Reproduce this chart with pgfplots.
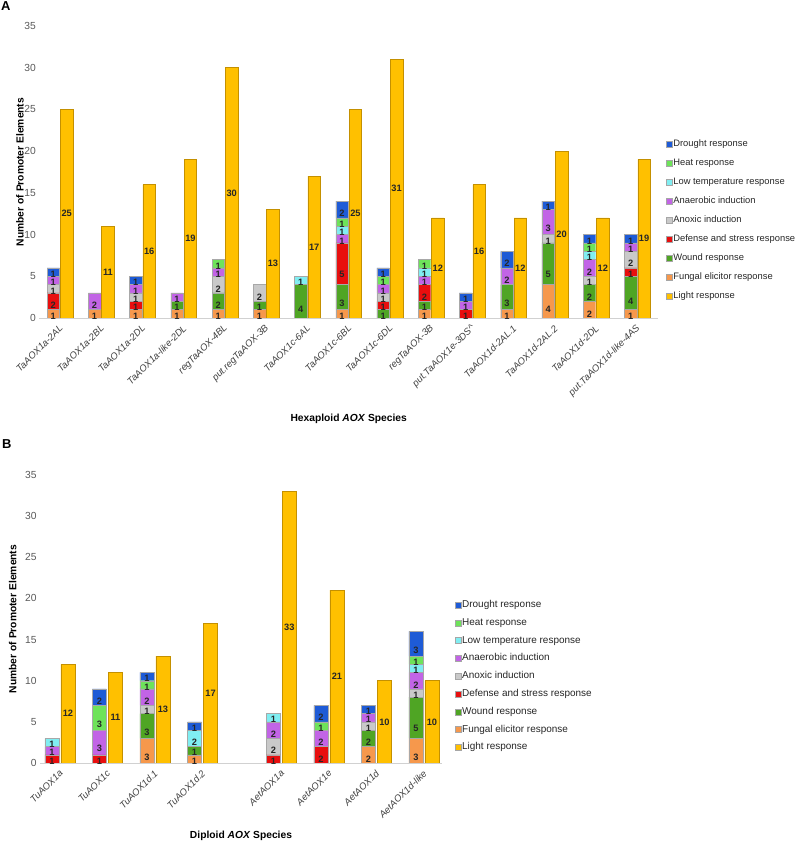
\documentclass[border=0pt]{standalone}
\usepackage{pgfplots}
\usepackage{pgfplotstable}
\pgfplotsset{compat=1.18}
\usepackage{fontspec}
\setmainfont{Liberation Sans}
\definecolor{cDr}{HTML}{1E5BD6}
\definecolor{cHe}{HTML}{6EE35A}
\definecolor{cLT}{HTML}{80EEF2}
\definecolor{cAn}{HTML}{C264E6}
\definecolor{cAx}{HTML}{C9C9C9}
\definecolor{cDe}{HTML}{E80E0E}
\definecolor{cWo}{HTML}{4FA524}
\definecolor{cFu}{HTML}{F6984C}
\definecolor{cLi}{HTML}{FFC000}
\definecolor{cLiB}{HTML}{C49000}
\definecolor{tickgray}{HTML}{595959}
\definecolor{segb}{HTML}{A8A8A8}

\pgfplotstableread{
x   F W D Ax An LT H Dr L
0   1 0 2 1  1  0  0 1  25
1   1 0 0 0  2  0  0 0  11
2   1 0 1 1  1  0  0 1  16
3   1 1 0 0  1  0  0 0  19
4   1 2 0 2  1  0  1 0  30
5   1 1 0 2  0  0  0 0  13
6   0 4 0 0  0  1  0 0  17
7   1 3 5 0  1  1  1 2  25
8   0 1 1 1  1  0  1 1  31
9   1 1 2 0  1  1  1 0  12
10  0 0 1 0  1  0  0 1  16
11  1 3 0 0  2  0  0 2  12
12  4 5 0 1  3  0  0 1  20
13  2 2 0 1  2  1  1 1  12
14  1 4 1 2  1  0  0 1  19
}\tabA

\pgfplotstableread{
x    F W D Ax An LT H Dr L
0    0 0 1 0  1  1  0 0  12
1    0 0 1 0  3  0  3 2  11
2    3 3 0 1  2  0  1 1  13
3    1 1 0 0  0  2  0 1  17
4.66 0 0 1 2  2  1  0 0  33
5.66 0 0 2 0  2  0  1 2  21
6.66 2 2 0 1  1  0  0 1  10
7.66 3 5 0 1  2  1  1 3  10
}\tabB

\pgfplotsset{
  basestyle/.style={
    scale only axis, ymin=0, ymax=35,
    enlarge x limits=false,
    ytick={0,5,...,35},
    /pgf/number format/assume math mode=true,
    axis lines*=left,
    y axis line style={draw=none},
    x axis line style={draw=black!18, line width=0.6pt},
    major tick length=0pt,
    tick style={draw=none},
    yticklabel style={font=\fontsize{10.3}{12}\selectfont, text=tickgray},
    xticklabel style={font=\itshape\fontsize{9.6}{11}\selectfont, text=black!75, rotate=45, anchor=east, xshift=-2bp, yshift=-7bp},
    ylabel style={font=\bfseries\fontsize{10.3}{12}\selectfont, anchor=center},
    xlabel style={font=\bfseries\fontsize{10.3}{12}\selectfont, anchor=center},
  },
  centerlabels/.style={
    every node near coord/.append style={anchor=center, font=\bfseries\fontsize{9.3}{10}\selectfont, text=black!85, inner sep=0pt,
       /utils/exec={\pgfkeys{/pgf/fpu=true,/pgf/fpu/output format=fixed}\pgfmathsetmacro\halfoff{-\pgfplotspointmeta*#1}\pgfkeys{/pgf/fpu=false}},
       yshift=\halfoff pt},
  },
  seglabels/.style={
    nodes near coords={\pgfmathfloatifflags{\pgfplotspointmeta}{0}{}{\pgfmathprintnumber{\pgfplotspointmeta}}},
    centerlabels=#1,
  },
  seg/.style={fill=#1, draw=segb, line width=0.35pt},
}

\begin{document}
\begin{tikzpicture}
\useasboundingbox (0,0) rectangle (797bp,844bp);
\node[anchor=north west, inner sep=0pt, font=\bfseries\fontsize{13}{15}\selectfont] at (1bp,843bp) {A};
\node[anchor=north west, inner sep=0pt, font=\bfseries\fontsize{13}{15}\selectfont] at (2bp,405bp) {B};

% ---------------- Panel A: stacked ----------------
\begin{axis}[ybar stacked, basestyle,
  at={(39.4bp,526bp)}, anchor=south west, width=618.6bp, height=292bp,
  xmin=-0.5, xmax=14.5, bar width=12.5bp, bar shift=-6.7bp,
  xtick={0,...,14},
  xticklabels={TaAOX1a-2AL, TaAOX1a-2BL, TaAOX1a-2DL, TaAOX1a-like-2DL, regTaAOX-4BL, put.regTaAOX-3B, TaAOX1c-6AL, TaAOX1c-6BL, TaAOX1c-6DL, regTaAOX-3B, put.TaAOX1e-3DS\textasciicircum, TaAOX1d-2AL.1, TaAOX1d-2AL.2, TaAOX1d-2DL, put.TaAOX1d-like-4AS},
  ylabel={Number of Promoter Elements},
  ylabel style={at={(axis description cs:-0.0314,0.5)}},
  xlabel={Hexaploid \textit{AOX} Species},
  xlabel style={at={(axis description cs:0.5,-0.346)}},
  seglabels=2.093,
]
\addplot[seg=cFu] table[x=x,y=F]{\tabA};
\addplot[seg=cWo] table[x=x,y=W]{\tabA};
\addplot[seg=cDe] table[x=x,y=D]{\tabA};
\addplot[seg=cAx] table[x=x,y=Ax]{\tabA};
\addplot[seg=cAn] table[x=x,y=An]{\tabA};
\addplot[seg=cLT] table[x=x,y=LT]{\tabA};
\addplot[seg=cHe] table[x=x,y=H]{\tabA};
\addplot[seg=cDr] table[x=x,y=Dr]{\tabA};
\end{axis}

% ---------------- Panel A: light ----------------
\begin{axis}[ybar, basestyle, hide axis,
  at={(39.4bp,526bp)}, anchor=south west, width=618.6bp, height=292bp,
  xmin=-0.5, xmax=14.5, bar width=12.5bp,
  nodes near coords, centerlabels=4.186,
  legend image code/.code={\draw[draw=black!35, line width=0.3pt, #1] (0bp,-3bp) rectangle (6bp,3bp);},
  legend style={draw=none, fill=none, inner sep=0pt, at={(axis description cs:1.013,0.615)}, anchor=north west,
    font=\fontsize{9.4}{11}\selectfont, row sep=8.2bp, text=black!85,
    nodes={inner sep=0.8bp, text height=7bp, text depth=2.2bp}},
  legend cell align=left,
]
\addlegendimage{fill=cDr}
\addlegendimage{fill=cHe}
\addlegendimage{fill=cLT}
\addlegendimage{fill=cAn}
\addlegendimage{fill=cAx}
\addlegendimage{fill=cDe}
\addlegendimage{fill=cWo}
\addlegendimage{fill=cFu}
\addplot[fill=cLi, draw=cLiB, line width=0.5pt, bar shift=6.7bp] table[x=x,y=L]{\tabA};
\legend{Drought response, Heat response, Low temperature response, Anaerobic induction, Anoxic induction, Defense and stress response, Wound response, Fungal elicitor response, Light response}
\end{axis}

% ---------------- Panel B: stacked ----------------
\begin{axis}[ybar stacked, basestyle,
  at={(40bp,81bp)}, anchor=south west, width=402bp, height=288bp,
  xmin=-0.42, xmax=8.04, bar width=14bp, bar shift=-8bp,
  xtick={0,1,2,3,4.66,5.66,6.66,7.66},
  xticklabels={TuAOX1a, TuAOX1c, TuAOX1d.1, TuAOX1d.2, AetAOX1a, AetAOX1e, AetAOX1d, AetAOX1d-like},
  ylabel={Number of Promoter Elements},
  ylabel style={at={(axis description cs:-0.068,0.5)}},
  xlabel={Diploid \textit{AOX} Species},
  xlabel style={at={(axis description cs:0.5,-0.253)}},
  seglabels=2.064,
]
\addplot[seg=cFu] table[x=x,y=F]{\tabB};
\addplot[seg=cWo] table[x=x,y=W]{\tabB};
\addplot[seg=cDe] table[x=x,y=D]{\tabB};
\addplot[seg=cAx] table[x=x,y=Ax]{\tabB};
\addplot[seg=cAn] table[x=x,y=An]{\tabB};
\addplot[seg=cLT] table[x=x,y=LT]{\tabB};
\addplot[seg=cHe] table[x=x,y=H]{\tabB};
\addplot[seg=cDr] table[x=x,y=Dr]{\tabB};
\end{axis}

% ---------------- Panel B: light ----------------
\begin{axis}[ybar, basestyle, hide axis,
  at={(40bp,81bp)}, anchor=south west, width=402bp, height=288bp,
  xmin=-0.42, xmax=8.04, bar width=14bp,
  nodes near coords, centerlabels=4.128,
  legend image code/.code={\draw[draw=black!35, line width=0.3pt, #1] (0bp,-3bp) rectangle (6bp,3bp);},
  legend style={draw=none, fill=none, inner sep=0pt, at={(axis description cs:1.032,0.568)}, anchor=north west,
    font=\fontsize{10}{12}\selectfont, row sep=7bp, text=black!85,
    nodes={inner sep=0.8bp, text height=7bp, text depth=2.2bp}},
  legend cell align=left,
]
\addlegendimage{fill=cDr}
\addlegendimage{fill=cHe}
\addlegendimage{fill=cLT}
\addlegendimage{fill=cAn}
\addlegendimage{fill=cAx}
\addlegendimage{fill=cDe}
\addlegendimage{fill=cWo}
\addlegendimage{fill=cFu}
\addplot[fill=cLi, draw=cLiB, line width=0.5pt, bar shift=8bp] table[x=x,y=L]{\tabB};
\legend{Drought response, Heat response, Low temperature response, Anaerobic induction, Anoxic induction, Defense and stress response, Wound response, Fungal elicitor response, Light response}
\end{axis}
\end{tikzpicture}
\end{document}
